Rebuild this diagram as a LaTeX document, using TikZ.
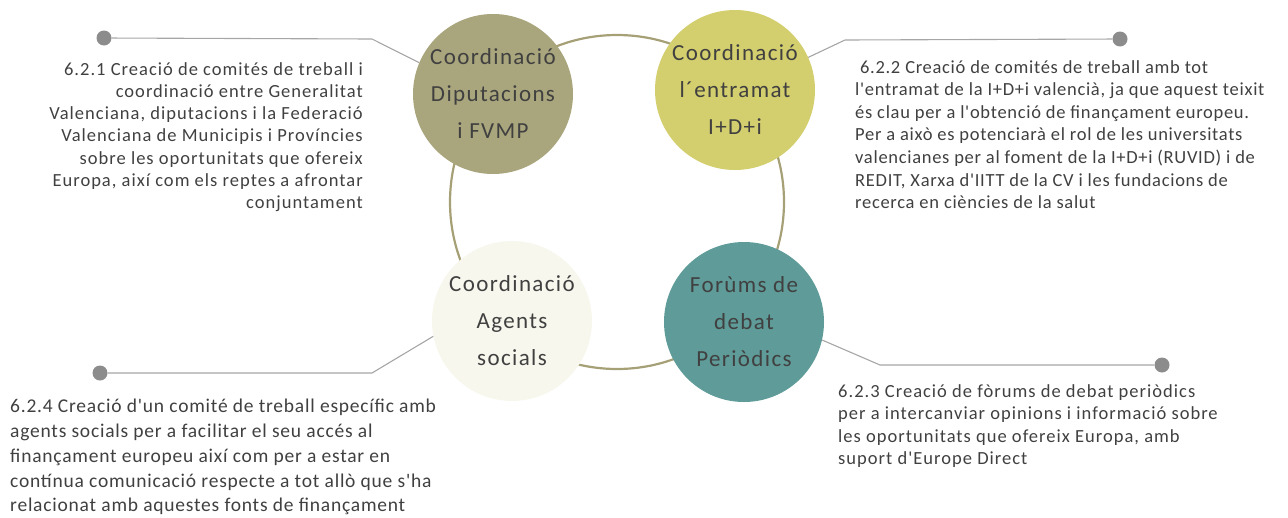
\documentclass[tikz,border=0pt]{standalone}
\usepackage{fontspec}
\setmainfont{Carlito}
\newfontfamily\circfont[LetterSpace=6]{Carlito}
\newfontfamily\bodyfontA[LetterSpace=5.5]{Carlito}
\newfontfamily\bodyfontB[LetterSpace=3.8]{Carlito}
\newfontfamily\bodyfontC[LetterSpace=5.5]{Carlito}
\newfontfamily\bodyfontD[LetterSpace=4]{Carlito}
\definecolor{cA}{HTML}{A9A57D}
\definecolor{cB}{HTML}{D3CE6E}
\definecolor{cC}{HTML}{F8F7EE}
\definecolor{cD}{HTML}{5F9B98}
\definecolor{ringc}{HTML}{A6A077}
\definecolor{linec}{HTML}{A6A6A6}
\definecolor{dotc}{HTML}{8C8C8C}
\definecolor{txt}{HTML}{404040}
\tikzset{
  bubble/.style={circle, minimum size=160pt, inner sep=0pt, align=center, text=txt,
    font=\circfont\fontsize{23}{37}\selectfont},
  ringstyle/.style={circle, draw=ringc, line width=2.2pt, minimum size=334pt, inner sep=0pt},
  dotstyle/.style={circle, fill=dotc, minimum size=15pt, inner sep=0pt},
  conn/.style={draw=linec, line width=1.1pt},
  body/.style={inner sep=0pt, text=txt}
}
\begin{document}
\begin{tikzpicture}[x=1pt,y=-1pt]
\useasboundingbox (0,0) rectangle (1288,517);
\node[ringstyle] (ring) at (617,202) {};
\node[bubble, fill=cA] (c1) at (493,94) {Coordinació\\Diputacions\\i FVMP};
\node[bubble, fill=cB] (c2) at (735,90) {Coordinació\\l´entramat\\I+D+i};
\node[bubble, fill=cC] (c3) at (512,321) {Coordinació\\Agents\\socials};
\node[bubble, fill=cD] (c4) at (744,322) {Forùms de\\debat\\Periòdics};
% dots and corners
\node[dotstyle] (d1) at (104,38) {};
\node[dotstyle] (d2) at (1120,39) {};
\node[dotstyle] (d3) at (1162,365) {};
\node[dotstyle] (d4) at (100,373) {};
\coordinate (k1) at (372,39);
\coordinate (k2) at (845,40);
\coordinate (k3) at (880,365);
\coordinate (k4) at (372,373);
\draw[conn] (d1) -- (k1) -- (c1.157);
\draw[conn] (d2) -- (k2) -- (c2.24);
\draw[conn] (d3) -- (k3) -- (c4.347);
\draw[conn] (d4) -- (k4) -- (c3.191);
% texts
\node[body, align=right, anchor=north east, font=\bodyfontA\fontsize{18.5}{22.3}\selectfont] (t1) at (363,62) {6.2.1 Creació de comités de treball i\\coordinació entre Generalitat\\Valenciana, diputacions i la Federació\\Valenciana de Municipis i Províncies\\sobre les oportunitats que ofereix\\Europa, així com els reptes a afrontar\\conjuntament};
\node[body, align=left, anchor=north west, font=\bodyfontB\fontsize{18.5}{22.6}\selectfont] (t2) at (855,60) {\ 6.2.2 Creació de comités de treball amb tot\\l'entramat de la I+D+i valencià, ja que aquest teixit\\és clau per a l'obtenció de finançament europeu.\\Per a això es potenciarà el rol de les universitats\\valencianes per al foment de la I+D+i (RUVID) i de\\REDIT, Xarxa d'IITT de la CV i les fundacions de\\recerca en ciències de la salut};
\node[body, align=left, anchor=north west, font=\bodyfontC\fontsize{18.5}{22.6}\selectfont] (t3) at (838,384) {6.2.3 Creació de fòrums de debat periòdics\\per a intercanviar opinions i informació sobre\\les oportunitats que ofereix Europa, amb\\suport d'Europe Direct};
\node[body, align=left, anchor=north west, font=\bodyfontD\fontsize{19.5}{24.8}\selectfont] (t4) at (10,399) {6.2.4 Creació d'un comité de treball específic amb\\agents socials per a facilitar el seu accés al\\finançament europeu així com per a estar en\\contínua comunicació respecte a tot allò que s'ha\\relacionat amb aquestes fonts de finançament};
\end{tikzpicture}
\end{document}
